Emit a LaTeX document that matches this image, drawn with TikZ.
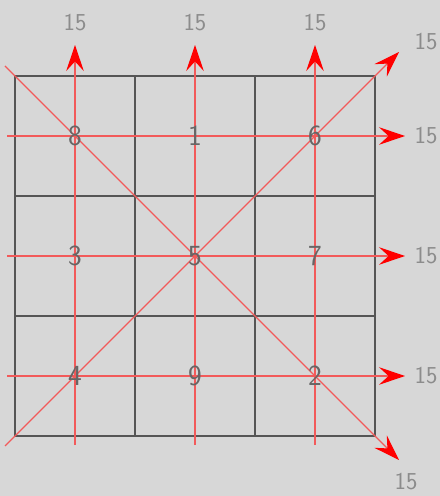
\documentclass[tikz,border=0pt]{standalone}
\usepackage{tikz}
\usetikzlibrary{arrows.meta,positioning}
\definecolor{fond}{HTML}{D7D7D7}
\definecolor{trait}{HTML}{F25A5A}
\definecolor{grille}{HTML}{555555}
\tikzset{
  sumline/.style={draw=trait, line width=0.8pt},
  sumarr/.style={sumline, -{Stealth[length=6.5mm, width=4.4mm, inset=2.4mm, red]}},
  gridline/.style={draw=grille, line width=0.85pt},
  cellnum/.style={font=\sffamily\huge, text=black!60, inner sep=1pt},
  sumlabel/.style={font=\sffamily\LARGE, text=black!45, inner sep=1pt},
}
\begin{document}
\begin{tikzpicture}
        \useasboundingbox (0,0) rectangle (11,12.4);
        \fill[fond] (0,0) rectangle (11,12.4);
        % grille 3x3
        \draw[gridline, shift={(0.375,1.5)}] (0,0) grid[step=3] (9,9);
        % extremites des lignes
        \coordinate (v1s) at (1.875,1.275);  \coordinate (v1e) at (1.875,11.275);
        \coordinate (v2s) at (4.875,1.275);  \coordinate (v2e) at (4.875,11.275);
        \coordinate (v3s) at (7.875,1.275);  \coordinate (v3e) at (7.875,11.275);
        \coordinate (h1s) at (0.175,9);      \coordinate (h1e) at (10.125,9);
        \coordinate (h2s) at (0.175,6);      \coordinate (h2e) at (10.125,6);
        \coordinate (h3s) at (0.175,3);      \coordinate (h3e) at (10.125,3);
        \coordinate (d1s) at (0.125,10.75);  \coordinate (d1e) at (9.975,0.9);
        \coordinate (d2s) at (0.125,1.25);   \coordinate (d2e) at (9.975,11.1);
        \draw[sumarr] (v1s) -- (v1e);
        \draw[sumarr] (v2s) -- (v2e);
        \draw[sumarr] (v3s) -- (v3e);
        \draw[sumarr] (h1s) -- (h1e);
        \draw[sumarr] (h2s) -- (h2e);
        \draw[sumarr] (h3s) -- (h3e);
        \draw[sumarr] (d1s) -- (d1e);
        \draw[sumarr] (d2s) -- (d2e);
        % carre magique
        \node[cellnum] (n8) at (1.875,9) {8};
        \node[cellnum] (n1) at (4.875,9) {1};
        \node[cellnum] (n6) at (7.875,9) {6};
        \node[cellnum] (n3) at (1.875,6) {3};
        \node[cellnum] (n5) at (4.875,6) {5};
        \node[cellnum] (n7) at (7.875,6) {7};
        \node[cellnum] (n4) at (1.875,3) {4};
        \node[cellnum] (n9) at (4.875,3) {9};
        \node[cellnum] (n2) at (7.875,3) {2};
        % sommes
        \node[sumlabel, above=3mm of v1e] (sv1) {15};
        \node[sumlabel, above=3mm of v2e] (sv2) {15};
        \node[sumlabel, above=3mm of v3e] (sv3) {15};
        \node[sumlabel, right=2mm of h1e] (sh1) {15};
        \node[sumlabel, right=2mm of h2e] (sh2) {15};
        \node[sumlabel, right=2mm of h3e] (sh3) {15};
        \node[sumlabel] (sd2) at (10.65,11.35) {15};
        \node[sumlabel] (sd1) at (10.15,0.35) {15};
      \end{tikzpicture}
\end{document}
